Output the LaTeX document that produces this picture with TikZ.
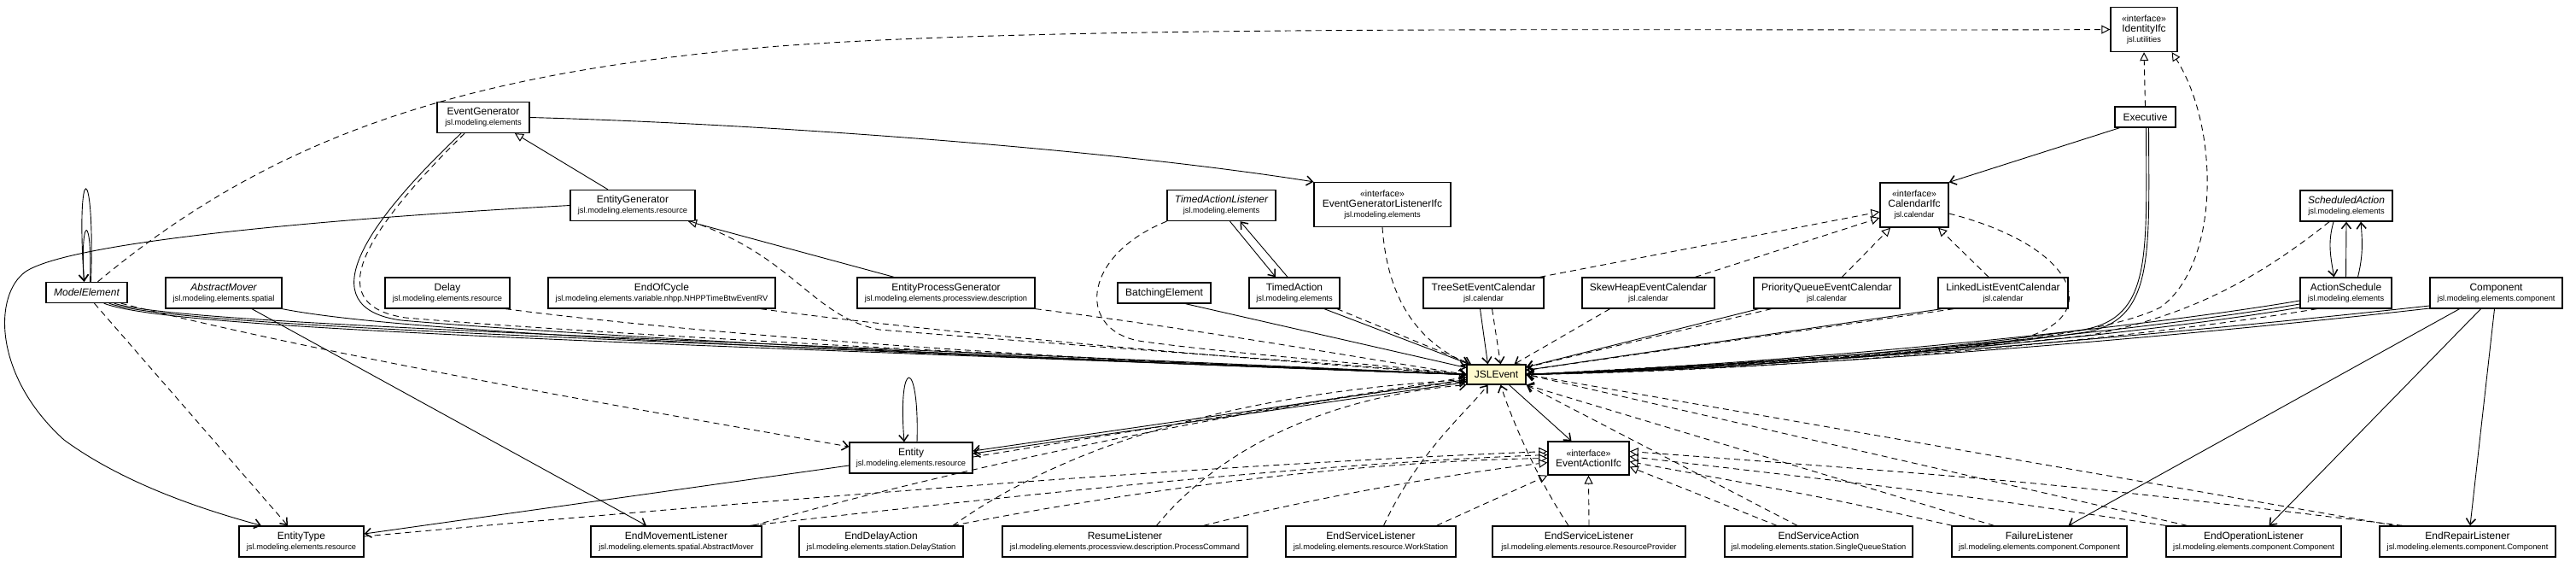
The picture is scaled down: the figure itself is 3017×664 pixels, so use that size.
\documentclass[tikz,border=0pt]{standalone}
\usepackage{fontspec}
\setmainfont{Liberation Sans}
\usepackage{xcolor}
\usepackage{tikz}
\usetikzlibrary{arrows.meta}

\definecolor{evfill}{RGB}{255,250,205}
\newcommand{\cname}[1]{{\fontsize{12}{14}\selectfont #1}}
\newcommand{\aname}[1]{{\fontsize{12}{14}\selectfont\itshape #1}}
\newcommand{\pname}[1]{{\fontsize{9.3}{11}\selectfont #1}}
\newcommand{\stype}{{\fontsize{10.5}{12}\selectfont «interface»}}

\begin{document}
\begin{tikzpicture}[x=1pt, y=-1pt,
    cls/.style={rectangle, draw, line width=1.3pt, fill=white, align=center, inner sep=2pt, minimum height=36pt},
    single/.style={cls, minimum height=24pt},
    iface/.style={cls, minimum height=52pt},
    event/.style={cls, fill=evfill, minimum height=23pt},
    assoc/.style={draw, line width=0.9pt, -{Straight Barb[length=7pt, width=11pt, line width=1.5pt]}},
    dep/.style={assoc, dash pattern=on 7pt off 5pt},
    real/.style={draw, line width=0.9pt, dash pattern=on 7pt off 5pt, -{Triangle[fill=white, length=10pt, width=10pt, line width=1pt]}},
    gen/.style={draw, line width=0.9pt, -{Triangle[fill=white, length=10pt, width=10pt, line width=1pt]}},
]
\useasboundingbox (0,0) rectangle (3017,664);

\node[iface, minimum width=78pt] (identity) at (2511,34.5) {\stype\\\cname{IdentityIfc}\\\pname{jsl.utilities}};
\node[single, minimum width=71pt] (executive) at (2512.5,137) {\cname{Executive}};
\node[cls, minimum width=108pt] (eventgen) at (566,137.5) {\cname{EventGenerator}\\\pname{jsl.modeling.elements}};
\node[cls, minimum width=146pt] (entitygen) at (741,240.5) {\cname{EntityGenerator}\\\pname{jsl.modeling.elements.resource}};
\node[cls, minimum width=127pt] (talistener) at (1430.5,240.5) {\aname{TimedActionListener}\\\pname{jsl.modeling.elements}};
\node[iface, minimum width=160pt] (eglistener) at (1619,239.5) {\stype\\\cname{EventGeneratorListenerIfc}\\\pname{jsl.modeling.elements}};
\node[iface, minimum width=80pt] (calendar) at (2242,240) {\stype\\\cname{CalendarIfc}\\\pname{jsl.calendar}};
\node[cls, minimum width=108pt] (schedaction) at (2748,241) {\aname{ScheduledAction}\\\pname{jsl.modeling.elements}};

\node[single, minimum width=95pt] (modelel) at (101.5,342.5) {\aname{ModelElement}};
\node[cls, minimum width=136pt] (absmover) at (262,343) {\aname{AbstractMover}\\\pname{jsl.modeling.elements.spatial}};
\node[cls, minimum width=146pt] (delay) at (524,343) {\cname{Delay}\\\pname{jsl.modeling.elements.resource}};
\node[cls, minimum width=266pt] (endcycle) at (775,343) {\cname{EndOfCycle}\\\pname{jsl.modeling.elements.variable.nhpp.NHPPTimeBtwEventRV}};
\node[cls, minimum width=208pt] (epgen) at (1108,343) {\cname{EntityProcessGenerator}\\\pname{jsl.modeling.elements.processview.description}};
\node[single, minimum width=109pt] (batching) at (1363.5,343) {\cname{BatchingElement}};
\node[cls, minimum width=106pt] (timedaction) at (1516,343) {\cname{TimedAction}\\\pname{jsl.modeling.elements}};
\node[cls, minimum width=141pt] (treeset) at (1737.5,343) {\cname{TreeSetEventCalendar}\\\pname{jsl.calendar}};
\node[cls, minimum width=155pt] (skewheap) at (1930.5,343) {\cname{SkewHeapEventCalendar}\\\pname{jsl.calendar}};
\node[cls, minimum width=171pt] (pqueue) at (2139.5,343) {\cname{PriorityQueueEventCalendar}\\\pname{jsl.calendar}};
\node[cls, minimum width=152pt] (linkedlist) at (2346,343) {\cname{LinkedListEventCalendar}\\\pname{jsl.calendar}};
\node[cls, minimum width=107pt] (actsched) at (2747.5,343) {\cname{ActionSchedule}\\\pname{jsl.modeling.elements}};
\node[cls, minimum width=155pt] (component) at (2923.5,343) {\cname{Component}\\\pname{jsl.modeling.elements.component}};

\node[event, minimum width=69pt] (jslevent) at (1752.5,438.5) {\cname{JSLEvent}};
\node[cls, minimum width=144pt] (entity) at (1067,536) {\cname{Entity}\\\pname{jsl.modeling.elements.resource}};
\node[cls, minimum width=95pt, minimum height=39pt] (eventaction) at (1860.5,536.5) {\stype\\\cname{EventActionIfc}};

\node[cls, minimum width=146pt] (entitytype) at (353,634) {\cname{EntityType}\\\pname{jsl.modeling.elements.resource}};
\node[cls, minimum width=200pt] (endmove) at (792,634) {\cname{EndMovementListener}\\\pname{jsl.modeling.elements.spatial.AbstractMover}};
\node[cls, minimum width=192pt] (enddelay) at (1032,634) {\cname{EndDelayAction}\\\pname{jsl.modeling.elements.station.DelayStation}};
\node[cls, minimum width=287pt] (resume) at (1317.5,634) {\cname{ResumeListener}\\\pname{jsl.modeling.elements.processview.description.ProcessCommand}};
\node[cls, minimum width=199pt] (endsvcws) at (1605.5,634) {\cname{EndServiceListener}\\\pname{jsl.modeling.elements.resource.WorkStation}};
\node[cls, minimum width=226pt] (endsvcrp) at (1861,634) {\cname{EndServiceListener}\\\pname{jsl.modeling.elements.resource.ResourceProvider}};
\node[cls, minimum width=220pt] (endsvcact) at (2130,634) {\cname{EndServiceAction}\\\pname{jsl.modeling.elements.station.SingleQueueStation}};
\node[cls, minimum width=205pt] (failure) at (2388.5,634) {\cname{FailureListener}\\\pname{jsl.modeling.elements.component.Component}};
\node[cls, minimum width=205pt] (endop) at (2639.5,634) {\cname{EndOperationListener}\\\pname{jsl.modeling.elements.component.Component}};
\node[cls, minimum width=206pt] (endrepair) at (2890,634) {\cname{EndRepairListener}\\\pname{jsl.modeling.elements.component.Component}};

\draw[assoc] ([xshift=5pt]modelel.north) .. controls +(5,-145) and +(-10,-145) .. ([xshift=-3pt]modelel.north);
\draw[assoc] ([xshift=4pt]modelel.north) .. controls +(3,-80) and +(-5,-80) .. ([xshift=-3pt]modelel.north);
\draw[real] ([xshift=13pt]modelel.north) .. controls (330,150) and (560,85) .. (900,55) .. controls (1250,27) and (2000,37) .. (identity.west);
\draw[assoc] (entitygen.west) .. controls (350,258) and (80,285) .. (30,318) .. controls (-8,345) and (-8,440) .. (75,515) .. controls (150,570) and (250,600) .. ([xshift=-47pt]entitytype.north);
\draw[dep] ([xshift=9pt]modelel.south) -- ([xshift=-16pt]entitytype.north);
\draw[assoc] ([xshift=-28pt]modelel.south east) .. controls (200,385) and (700,400) .. (jslevent.west);
\draw[assoc] ([xshift=-22pt]modelel.south east) .. controls (205,382) and (700,396) .. (jslevent.west);
\draw[assoc] ([xshift=-16pt]modelel.south east) .. controls (210,379) and (700,392) .. (jslevent.west);
\draw[dep] ([xshift=-8pt]modelel.south east) .. controls (400,420) and (750,480) .. ([yshift=13pt]entity.west);

\draw[assoc] (absmover.south east) .. controls (450,385) and (800,405) .. (jslevent.west);
\draw[assoc] ([xshift=33pt]absmover.south) -- ([xshift=-35pt]endmove.north);

\draw[assoc] ([xshift=-26pt]eventgen.south) .. controls (430,260) and (360,360) .. (470,375) .. controls (700,395) and (1300,425) .. (jslevent.west);
\draw[dep] ([xshift=-22pt]eventgen.south) .. controls (437,262) and (368,356) .. (475,372) .. controls (705,392) and (1300,422) .. (jslevent.west);
\draw[assoc] (eventgen.east) .. controls (900,145) and (1300,175) .. (eglistener.north west);
\draw[gen] ([xshift=-29pt]entitygen.north) -- ([xshift=37pt]eventgen.south);
\draw[gen] ([xshift=-61pt]epgen.north) -- ([xshift=65pt]entitygen.south);
\draw[dep] ([xshift=68pt]entitygen.south) .. controls (930,300) and (950,370) .. (1030,386) .. controls (1300,408) and (1600,428) .. (jslevent.west);
\draw[dep] ([xshift=68pt]delay.south) .. controls (850,395) and (1300,425) .. (jslevent.west);
\draw[dep] ([xshift=116pt]endcycle.south) .. controls (1100,390) and (1450,420) .. (jslevent.west);
\draw[dep] (epgen.south east) .. controls (1400,385) and (1600,420) .. (jslevent.west);
\draw[dep] (talistener.south west) .. controls (1265,300) and (1260,390) .. (1340,400) .. controls (1450,415) and (1600,425) .. (jslevent.west);
\draw[assoc] ([xshift=10pt]talistener.south) -- ([xshift=-22pt]timedaction.north);
\draw[assoc] ([xshift=-8pt]timedaction.north) -- ([xshift=22pt]talistener.south);
\draw[assoc] ([xshift=25pt]batching.south) -- (jslevent);
\draw[assoc] ([xshift=35pt]timedaction.south) -- (jslevent);
\draw[dep] ([xshift=50pt]timedaction.south) -- (jslevent);
\draw[dep] (eglistener.south) .. controls (1625,350) and (1660,400) .. ([xshift=3pt]jslevent.north west);

\draw[assoc] ([xshift=-4pt]treeset.south) -- ([xshift=-10pt]jslevent.north);
\draw[dep] ([xshift=10pt]treeset.south) -- ([xshift=5pt]jslevent.north);
\draw[real] ([xshift=66pt]treeset.north) -- ([yshift=-8pt]calendar.west);
\draw[real] ([xshift=55pt]skewheap.north) -- ([yshift=-15pt]calendar.west);
\draw[dep] ([xshift=-45pt]skewheap.south) -- (jslevent);
\draw[real] ([xshift=18pt]pqueue.north) -- ([xshift=-28pt]calendar.south);
\draw[assoc] ([xshift=-80pt]pqueue.south) -- (jslevent);
\draw[dep] ([xshift=-65pt]pqueue.south) -- (jslevent);
\draw[real] ([xshift=-17pt]linkedlist.north) -- ([xshift=28pt]calendar.south);
\draw[assoc] ([xshift=-72pt]linkedlist.south) -- (jslevent);
\draw[dep] ([xshift=-58pt]linkedlist.south) -- (jslevent);
\draw[dep] ([yshift=-10pt]calendar.east) .. controls (2440,290) and (2470,380) .. (2350,400) .. controls (2150,420) and (1900,432) .. (jslevent.east);

\draw[assoc] ([xshift=-30pt]executive.south) -- (calendar.north east);
\draw[real] (executive.north) -- (identity.south);
\draw[assoc] ([xshift=1pt]executive.south) .. controls (2514,300) and (2520,372) .. (2440,386) .. controls (2200,420) and (1950,430) .. (jslevent.east);
\draw[assoc] ([xshift=4pt]executive.south) .. controls (2517,300) and (2523,375) .. (2442,389) .. controls (2200,423) and (1950,433) .. (jslevent.east);
\draw[real] (jslevent.east) .. controls (2200,420) and (2450,400) .. (2530,360) .. controls (2600,310) and (2600,150) .. ([xshift=-7pt]identity.south east);

\draw[dep] ([xshift=-20pt]schedaction.south) .. controls (2640,330) and (2560,370) .. (2450,392) .. controls (2200,420) and (1950,432) .. (jslevent.east);
\draw[assoc] ([xshift=-15pt]schedaction.south) .. controls +(-7,25) and +(-4,-25) .. ([xshift=-14pt]actsched.north);
\draw[assoc] (actsched.north) -- (schedaction.south);
\draw[assoc] ([xshift=14pt]actsched.north) .. controls +(6,-25) and +(2,25) .. ([xshift=17pt]schedaction.south);
\draw[assoc] ([yshift=-9pt]actsched.west) .. controls (2500,385) and (2100,425) .. (jslevent.east);
\draw[assoc] ([yshift=-13pt]actsched.west) .. controls (2500,389) and (2100,428) .. (jslevent.east);
\draw[assoc] ([yshift=-17pt]actsched.west) .. controls (2500,393) and (2100,431) .. (jslevent.east);
\draw[dep] ([xshift=-34pt]actsched.south) .. controls (2500,397) and (2100,434) .. (jslevent.east);
\draw[assoc] ([yshift=-15pt]component.west) .. controls (2600,385) and (2150,428) .. (jslevent.east);
\draw[assoc] ([yshift=-18pt]component.west) .. controls (2600,389) and (2150,431) .. (jslevent.east);
\draw[assoc] ([xshift=-43pt]component.south) -- ([xshift=34pt]failure.north);
\draw[assoc] ([xshift=-18pt]component.south) -- ([xshift=18pt]endop.north);
\draw[assoc] ([xshift=-2pt]component.south) -- ([xshift=3pt]endrepair.north);

\draw[assoc] ([yshift=-6pt]jslevent.west) -- ([yshift=8pt]entity.east);
\draw[assoc] ([yshift=-9pt]jslevent.west) -- ([yshift=5pt]entity.east);
\draw[dep] ([yshift=1pt]entity.east) -- ([yshift=-3pt]jslevent.west);
\draw[assoc] ([xshift=7pt]entity.north) .. controls +(3,-100) and +(-8,-100) .. ([xshift=-8pt]entity.north);
\draw[assoc] ([yshift=-9pt]entity.west) -- ([yshift=9pt]entitytype.east);
\draw[assoc] ([xshift=15pt]jslevent.south) -- ([xshift=-20pt]eventaction.north);

\draw[real] ([yshift=6pt]entitytype.east) .. controls (900,585) and (1400,545) .. ([yshift=8pt]eventaction.west);
\draw[real] ([xshift=86pt]endmove.north) .. controls (1150,585) and (1500,545) .. ([yshift=4pt]eventaction.west);
\draw[real] ([xshift=84pt]enddelay.north) .. controls (1350,570) and (1600,540) .. (eventaction.west);
\draw[real] ([xshift=92pt]resume.north) .. controls (1550,580) and (1700,555) .. ([yshift=-5pt]eventaction.west);
\draw[real] ([xshift=77pt]endsvcws.north) -- (eventaction.south west);
\draw[real] (endsvcrp.north) -- (eventaction.south);
\draw[real] ([xshift=-49pt]endsvcact.north) -- ([yshift=-10pt]eventaction.east);
\draw[real] ([xshift=-102pt]failure.north) .. controls (2150,585) .. ([yshift=-4pt]eventaction.east);
\draw[real] ([xshift=-103pt]endop.north) .. controls (2300,580) .. ([yshift=2pt]eventaction.east);
\draw[real] ([xshift=-76pt]endrepair.north) .. controls (2400,565) .. ([yshift=8pt]eventaction.east);

\draw[dep] ([xshift=90pt]endmove.north) .. controls (1150,540) and (1500,470) .. ([yshift=-8pt]jslevent.west);
\draw[dep] ([xshift=84pt]enddelay.north) .. controls (1250,520) and (1450,460) .. ([yshift=-6pt]jslevent.west);
\draw[dep] ([xshift=37pt]resume.north) .. controls (1450,500) and (1600,460) .. (jslevent.south west);
\draw[dep] ([xshift=15pt]endsvcws.north) .. controls (1660,530) and (1720,480) .. ([xshift=-10pt]jslevent.south);
\draw[dep] ([xshift=-24pt]endsvcrp.north) .. controls (1800,560) and (1770,490) .. ([xshift=5pt]jslevent.south);
\draw[dep] ([xshift=-25pt]endsvcact.north) -- (jslevent.south east);
\draw[dep] ([xshift=-53pt]failure.north) -- (jslevent.south east);
\draw[dep] ([xshift=-78pt]endop.north) -- (jslevent.east);
\draw[dep] ([xshift=-85pt]endrepair.north) -- (jslevent.east);

\end{tikzpicture}
\end{document}
